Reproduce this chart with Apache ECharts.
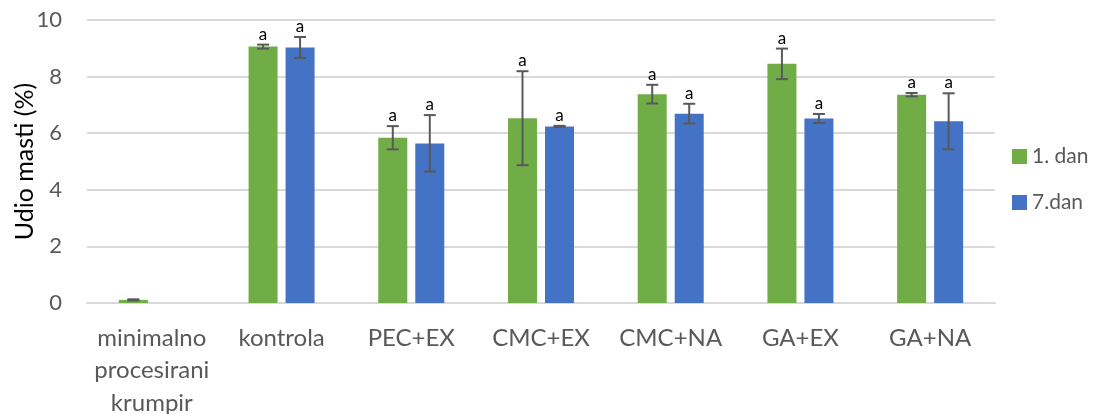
<!DOCTYPE html>
<html><head><meta charset="utf-8">
<script src="https://cdn.jsdelivr.net/npm/echarts@6/dist/echarts.min.js"></script>
<style>html,body{margin:0;padding:0;background:#fff}#c{width:1099px;height:414px}</style>
</head><body><div id="c"></div>
<script>
const categories = ['minimalno\nprocesirani\nkrumpir','kontrola','PEC+EX','CMC+EX','CMC+NA','GA+EX','GA+NA'];
const seriesNames = ['1. dan','7.dan'];
const day1 = [0.11, 9.06, 5.84, 6.53, 7.38, 8.45, 7.36];
const day1Err = [0.02, 0.07, 0.41, 1.66, 0.33, 0.54, 0.06];
const day7 = [null, 9.03, 5.64, 6.24, 6.69, 6.52, 6.42];
const day7Err = [null, 0.37, 1.0, 0.02, 0.35, 0.16, 0.99];
const letters1 = ['', 'a','a','a','a','a','a'];
const letters7 = ['', 'a','a','a','a','a','a'];
const yTicks = [0, 2, 4, 6, 8, 10];

const FONT = 'Lato';
const BAR_W = 29, GAP = 8;
const colors = ['#70ad47', '#4472c4'];

function errSeries(vals, errs, letters, offset) {
  return {
    type: 'custom', z: 5,
    data: vals.map((v, i) => [i, v, errs[i]]),
    renderItem: function (params, api) {
      const v = api.value(1);
      if (v === null || v === undefined || isNaN(v)) return;
      const e = api.value(2);
      const idx = api.value(0);
      const c = api.coord([idx, v]);
      const x = c[0] + offset;
      const top = api.coord([idx, v + e])[1];
      const bot = api.coord([idx, v - e])[1];
      const hw = 6;
      const st = { stroke: '#595959', lineWidth: 2 };
      const children = [
        { type: 'line', shape: { x1: x, y1: top, x2: x, y2: bot }, style: st },
        { type: 'line', shape: { x1: x - hw, y1: top, x2: x + hw, y2: top }, style: st },
        { type: 'line', shape: { x1: x - hw, y1: bot, x2: x + hw, y2: bot }, style: st }
      ];
      const lt = letters[params.dataIndex];
      if (lt) {
        children.push({ type: 'text', style: { text: lt, x: x, y: top - 2, align: 'center', verticalAlign: 'bottom', fill: '#000', font: '17px ' + FONT } });
      }
      return { type: 'group', children: children };
    }
  };
}

const chart = echarts.init(document.getElementById('c'));
const off = (BAR_W + GAP) / 2;
chart.setOption({
  animation: false,
  textStyle: { fontFamily: FONT },
  grid: { left: 87, right: 104, top: 20, bottom: 111, outerBoundsMode: 'none', containLabel: false },
  legend: {
    orient: 'vertical', left: 1007, top: 141,
    itemWidth: 15, itemHeight: 15, itemGap: 25,
    icon: 'rect',
    textStyle: { fontSize: 21, color: '#595959', fontFamily: FONT },
    data: seriesNames
  },
  xAxis: {
    type: 'category', data: categories,
    axisLine: { lineStyle: { color: '#d9d9d9', width: 2 } },
    axisTick: { show: false },
    axisLabel: { color: '#595959', fontSize: 24, margin: 19, lineHeight: 32.5, interval: 0, fontFamily: FONT }
  },
  yAxis: {
    type: 'value', min: 0, max: 10, interval: 2,
    name: 'Udio masti (%)', nameLocation: 'middle', nameGap: 50, nameMoveOverlap: false,
    nameTextStyle: { fontSize: 25, color: '#000', fontFamily: FONT },
    axisLine: { show: false }, axisTick: { show: false },
    axisLabel: { color: '#595959', fontSize: 22, margin: 25, fontFamily: FONT,
      formatter: v => yTicks.includes(v) ? String(v) : '' },
    splitLine: { lineStyle: { color: '#d9d9d9', width: 2 } }
  },
  series: [
    { name: seriesNames[0], type: 'bar', data: day1, barWidth: BAR_W, barGap: (GAP / BAR_W * 100) + '%', itemStyle: { color: colors[0] } },
    { name: seriesNames[1], type: 'bar', data: day7, barWidth: BAR_W, itemStyle: { color: colors[1] } },
    errSeries(day1, day1Err, letters1, -off),
    errSeries(day7, day7Err, letters7, off)
  ]
});
</script></body></html>
